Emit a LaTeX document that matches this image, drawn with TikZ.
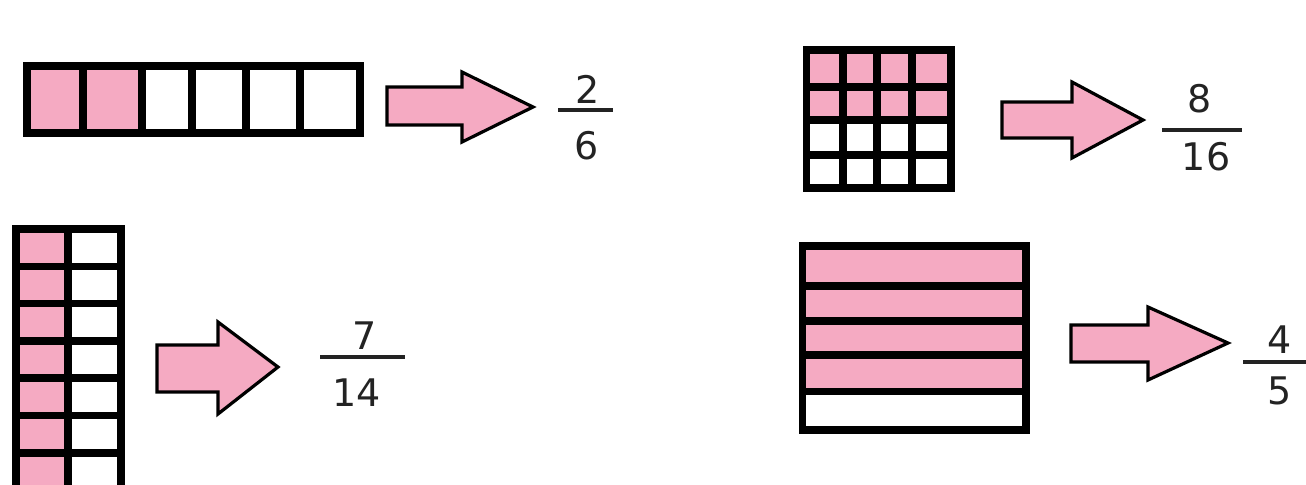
\documentclass[tikz,border=0pt]{standalone}
\usepackage{fontspec}
\setmainfont{DejaVu Sans}
\definecolor{pinkfill}{RGB}{245,170,194}
\definecolor{numgray}{RGB}{35,35,35}
\tikzset{
  frame/.style={line width=3.8pt, line join=miter, line cap=rect},
  arrowshape/.style={fill=pinkfill, draw=black, line width=1.6pt, line join=miter},
  numtext/.style={font=\fontsize{19}{22}\selectfont, text=numgray, inner sep=0pt},
  fracbar/.style={line width=1.7pt, draw=numgray}
}
\begin{document}
\begin{tikzpicture}[x=0.5pt,y=-0.5pt]
\useasboundingbox (0,0) rectangle (1306,484);
\fill[white] (0,0) rectangle (1306,484);
\clip (0,0) rectangle (1306,484);

% ---------- Panel 1: 2/6 ----------
\fill[pinkfill] (27,66) rectangle (142,133);
\draw[frame] (27,66) rectangle (360,133);
\foreach \x in {83,142,192,246,300} \draw[frame] (\x,66) -- (\x,133);
\draw[arrowshape] (387,87) -- (462,87) -- (462,72) -- (533,107) -- (462,142) -- (462,125) -- (387,125) -- cycle;
\node[numtext] (n1) at (588,89) {2};
\node[numtext] (d1) at (587,146) {6};
\coordinate (b1a) at (558,110);
\coordinate (b1b) at (613,110);
\draw[fracbar] (b1a) -- (b1b);

% ---------- Panel 2: 8/16 ----------
\fill[pinkfill] (806.5,50) rectangle (951,120);
\draw[frame] (806.5,50) rectangle (951,188);
\foreach \x in {843,877,912} \draw[frame] (\x,50) -- (\x,188);
\foreach \y in {87,120,155} \draw[frame] (806.5,\y) -- (951,\y);
\draw[arrowshape] (1002,102) -- (1072,102) -- (1072,82) -- (1143,120) -- (1072,158) -- (1072,138) -- (1002,138) -- cycle;
\node[numtext] (n2) at (1200,99) {8};
\node[numtext] (d2) at (1206,157) {16};
\coordinate (b2a) at (1162,130);
\coordinate (b2b) at (1242,130);
\draw[fracbar] (b2a) -- (b2b);

% ---------- Panel 3: 7/14 ----------
\fill[pinkfill] (16,229) rectangle (68,492);
\draw[frame] (16,229) rectangle (121,492);
\draw[frame] (68,229) -- (68,492);
\foreach \i in {1,...,6} \draw[frame] (16,229+37.3*\i) -- (121,229+37.3*\i);
\draw[arrowshape] (157,345) -- (218,345) -- (218,322) -- (278,367) -- (218,414) -- (218,392) -- (157,392) -- cycle;
\node[numtext] (n3) at (365,336) {7};
\node[numtext] (d3) at (357,393) {14};
\coordinate (b3a) at (320,357);
\coordinate (b3b) at (405,357);
\draw[fracbar] (b3a) -- (b3b);

% ---------- Panel 4: 4/5 ----------
\fill[pinkfill] (802.5,246) rectangle (1026,391.5);
\draw[frame] (802.5,246) rectangle (1026,430);
\foreach \y in {286,321,355,391.5} \draw[frame] (802.5,\y) -- (1026,\y);
\draw[arrowshape] (1071,325) -- (1148,325) -- (1148,307) -- (1228,343) -- (1148,380) -- (1148,362) -- (1071,362) -- cycle;
\node[numtext] (n4) at (1280,340) {4};
\node[numtext] (d4) at (1280,391) {5};
\coordinate (b4a) at (1243,362);
\coordinate (b4b) at (1306,362);
\draw[fracbar] (b4a) -- (b4b);
\end{tikzpicture}
\end{document}
